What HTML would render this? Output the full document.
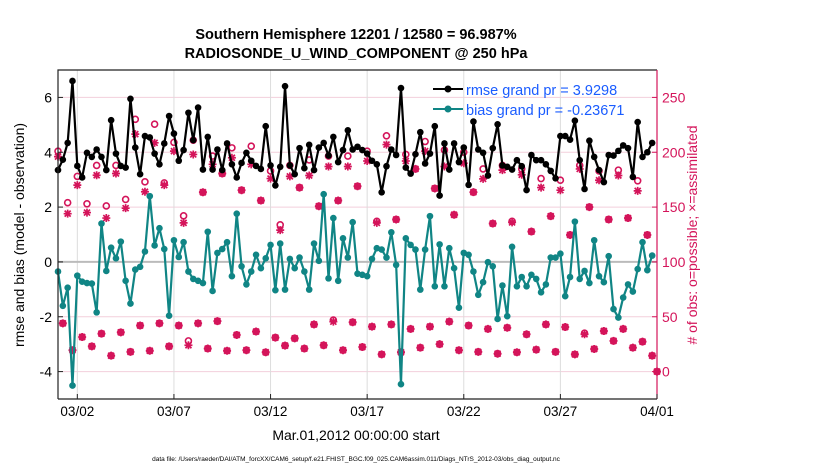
<!DOCTYPE html>
<html><head><meta charset="utf-8"><style>
body{margin:0;background:#fff;}
svg text{font-family:"Liberation Sans",sans-serif;}
</style></head><body>
<svg id="chart" width="830" height="470" viewBox="0 0 830 470" xmlns="http://www.w3.org/2000/svg">
<rect width="830" height="470" fill="#fff"/>
<g id="grid"></g>
<g id="marks"></g>
<g id="axes"></g>
<text x="356" y="39" text-anchor="middle" font-size="14.5" font-weight="bold">Southern Hemisphere 12201 / 12580 = 96.987%</text>
<text x="356" y="58" text-anchor="middle" font-size="14.5" font-weight="bold">RADIOSONDE_U_WIND_COMPONENT @ 250 hPa</text>
<text transform="translate(24,235) rotate(-90)" text-anchor="middle" font-size="14">rmse and bias (model - observation)</text>
<text transform="translate(697,235) rotate(-90)" text-anchor="middle" font-size="14" fill="#d4145a"># of obs: o=possible; ×=assimilated</text>
<text x="356" y="440" text-anchor="middle" font-size="14">Mar.01,2012 00:00:00 start</text>
<text x="356" y="461" text-anchor="middle" font-size="6.5">data file: /Users/raeder/DAI/ATM_forcXX/CAM6_setup/f.e21.FHIST_BGC.f09_025.CAM6assim.011/Diags_NTrS_2012-03/obs_diag_output.nc</text>
<g>
<line x1="433" y1="89" x2="463" y2="89" stroke="#000" stroke-width="2"/><circle cx="448" cy="89" r="3.5" fill="#000"/>
<text x="466" y="95" font-size="14.5" fill="#1a5cff">rmse grand pr = 3.9298</text>
<line x1="433" y1="109" x2="463" y2="109" stroke="#108585" stroke-width="2"/><circle cx="448" cy="109" r="3.5" fill="#108585"/>
<text x="466" y="115" font-size="14.5" fill="#1a5cff">bias grand pr = -0.23671</text>
</g>
</svg>
<script>
const rmse=[3.35,3.73,4.34,6.6,3.5,3.08,3.98,3.83,4.1,3.83,3.35,5.17,3.95,3.5,3.44,5.95,4.17,3.2,4.59,4.54,3.95,3.56,4.32,5.32,4.68,3.69,4.08,5.44,4.44,5.63,3.37,4.56,
3.37,4.1,3.35,4.32,3.56,3.08,3.61,3.98,3.69,3.5,3.39,4.95,3.52,2.79,3.47,6.41,3.52,3.2,4.15,3.42,4.27,3.35,4.17,4.34,3.88,4.56,3.64,4.08,4.8,4.1,4.2,
4.08,3.95,3.69,3.56,2.54,3.49,4.1,3.9,6.34,3.44,3.22,3.93,4.73,3.59,3.95,4.95,2.42,4.32,3.37,4.32,3.64,4.17,2.81,5.12,4.1,3.98,3.15,4.15,5.02,3.52,3.47,
3.37,3.71,3.49,2.62,3.9,3.71,3.71,3.56,3.32,3.05,4.59,4.59,4.46,5.15,3.71,2.66,4.42,3.83,3.35,2.91,3.9,3.88,4.05,4.25,4.15,3.1,5.1,3.83,4.0,4.34];
const bias=[-0.35,-1.6,-0.94,-4.51,-0.5,-0.72,-0.77,-0.79,-1.84,1.4,-0.33,0.52,0.13,0.74,-0.69,-1.52,-0.28,-0.18,0.38,2.4,0.6,1.23,0.47,-1.96,0.79,0.18,0.72,-0.35,-0.62,-0.69,-0.77,1.1,
-1.06,0.33,0.47,0.72,-0.52,1.76,-0.16,-0.82,-0.35,0.26,-0.23,0.13,0.62,-1.03,0.67,-1.01,0.11,-0.23,0.16,-0.35,-1.01,0.67,0.04,2.47,-0.6,1.6,-0.69,0.86,0.16,1.45,-0.43,
-0.47,-0.52,0.11,0.5,0.45,0.16,1.08,-0.11,-4.46,0.86,0.62,0.45,-1.01,0.45,1.67,-0.89,0.64,-0.89,0.5,-0.23,-1.67,0.33,0.26,-0.35,-1.2,-0.74,-0.01,-0.16,-2.08,-0.86,-1.98,
0.55,-0.89,-0.55,-0.89,-0.47,-0.62,-1.11,-0.82,0.16,0.16,0.3,-1.25,-0.55,1.47,-0.62,-0.33,-0.77,0.79,-0.52,-0.74,0.21,-1.72,-2.03,-1.3,-0.82,-1.08,-0.26,0.72,-0.3,0.23];
const assimilated=[196,44,144,19.5,170,31.5,145,23,179,34.6,140,14.5,180.6,35.8,149,18,216.5,42,164,19,208.6,44,170,23,201,42,135.6,24,198,44,163.5,21,
189,46,180.6,19,195,33.4,165.4,19.5,189,36.5,156,17.6,176,31,129,23.7,178,30.3,167.8,21,178.8,43,150.8,24,187,45.5,156,19.5,187,45,169,
22.4,192,41,135.6,15.7,207,43,138.7,17.6,192,38.9,184.8,21.8,201,41,167,25,187,45.6,143,19.5,190,42,163.6,18,175.7,38.9,135,16.3,183.7,40,
136,17.6,179.5,34,127.7,20,167.8,43,141.7,18,165.4,40.6,124.6,15.7,184.8,34,150,20.6,174.5,37,138.7,28,178.8,38.9,140,21.8,164.8,27.3,124.6,14.5,0];
const possible=[201,44,154,19.5,178,31.5,153,23,188,34.6,151,14.5,188,35.8,157,18,230,42,173,19,225.6,44,172,23,209,42,142,28,211,44,163.5,21,
196.5,46,180.6,19,204,33.4,165.4,19.5,205.5,36.5,156,17.6,183,31,133.8,23.7,188,30.3,167.8,21,193,43,150.8,24,196.5,47,156,19.5,196.5,45,169,
22.4,201,41,137,15.7,215,43,138.7,17.6,198,38.9,184.8,21.8,209.8,41,167,25,202,45.6,143,19.5,200,42,163.6,18,184.8,38.9,135,16.3,188,40,
137,17.6,184.8,34,127.7,20,176,43,141.7,18,174.5,40.6,124.6,15.7,188,35,150,20.6,183,37,138.7,28,183.7,38.9,140,21.8,174,27.3,124.6,14.5,0];
const xTickLabels=["03/02","03/07","03/12","03/17","03/22","03/27","04/01"];
const xTickDays=[1,6,11,16,21,26,31];
const yLeftTicks=[-4,-2,0,2,4,6];
const yRightTicks=[0,50,100,150,200,250];
const stepDays=0.25;

const NS="http://www.w3.org/2000/svg";
const X0=58,X1=657,Y0=70,Y1=399;
const xS=d=>X0+d*(X1-X0)/31;
const yL=v=>Y1-(v+5)*(Y1-Y0)/12;
const yR=c=>yL((c-100)/25);
function mk(parent,tag,attrs){const e=document.createElementNS(NS,tag);for(const k in attrs)e.setAttribute(k,attrs[k]);parent.appendChild(e);return e;}
const grid=document.getElementById('grid'),marks=document.getElementById('marks'),axes=document.getElementById('axes');
const RED="#d4145a",TEAL="#108585";

yLeftTicks.forEach(v=>{if(v!==0){const l=mk(grid,'line',{x1:X0,x2:X1,y1:yL(v),y2:yL(v),stroke:'#f3cfdc','stroke-width':1});

}});
xTickDays.forEach(d=>{const l=mk(grid,'line',{x1:xS(d),x2:xS(d),y1:Y0,y2:Y1,stroke:'#dcdcdc','stroke-width':1});

});
const z=mk(grid,'line',{x1:X0,x2:X1,y1:yL(0),y2:yL(0),stroke:'#bbbbbb','stroke-width':2});



assimilated.forEach((c,i)=>{
  const x=xS(i*stepDays);
  const pc=mk(marks,'circle',{cx:x,cy:yR(possible[i]),r:3,fill:'none',stroke:RED,'stroke-width':1.6});
  
  
  const y=yR(c);
  const g=mk(marks,'path',{d:`M${x-4} ${y}H${x+4}M${x} ${y-4}V${y+4}M${x-3} ${y-3}L${x+3} ${y+3}M${x-3} ${y+3}L${x+3} ${y-3}`,stroke:RED,'stroke-width':1.7,fill:'none'});
  
  
});

function series(arr,color,name){
  const pts=arr.map((v,i)=>xS(i*stepDays).toFixed(2)+','+yL(v).toFixed(2)).join(' ');
  const pl=mk(marks,'polyline',{points:pts,fill:'none',stroke:color,'stroke-width':2.2,'stroke-linejoin':'round'});
  
  
  arr.forEach((v,i)=>{const c=mk(marks,'circle',{cx:xS(i*stepDays),cy:yL(v),r:3.3,fill:color});
  
  });
}
series(bias,TEAL,'bias');
series(rmse,'#000','rmse');

const fr=mk(axes,'path',{d:`M${X0} ${Y1}V${Y0}H${X1}M${X0} ${Y1}H${X1}`,stroke:'#222',fill:'none','stroke-width':1.2});


const ra=mk(axes,'line',{x1:X1,x2:X1,y1:Y0,y2:Y1,stroke:RED,'stroke-width':1.2});


xTickDays.forEach((d,k)=>{
  const t=mk(axes,'line',{x1:xS(d),x2:xS(d),y1:Y1,y2:Y1-5,stroke:'#222'});
  
  
  const tx=mk(axes,'text',{x:xS(d),y:416,'text-anchor':'middle','font-size':13.5});
  tx.textContent=xTickLabels[k];
  
  
});
yLeftTicks.forEach(v=>{
  const t=mk(axes,'line',{x1:X0,x2:X0+5,y1:yL(v),y2:yL(v),stroke:'#222'});
  
  
  const tx=mk(axes,'text',{x:X0-6,y:yL(v)+5,'text-anchor':'end','font-size':14});
  tx.textContent=String(v);
  
  
});
yRightTicks.forEach(c=>{
  const t=mk(axes,'line',{x1:X1-5,x2:X1,y1:yR(c),y2:yR(c),stroke:RED});
  
  
  const tx=mk(axes,'text',{x:X1+5,y:yR(c)+5,'font-size':14,fill:RED});
  tx.textContent=String(c);
  
  
});
</script>
</body></html>
